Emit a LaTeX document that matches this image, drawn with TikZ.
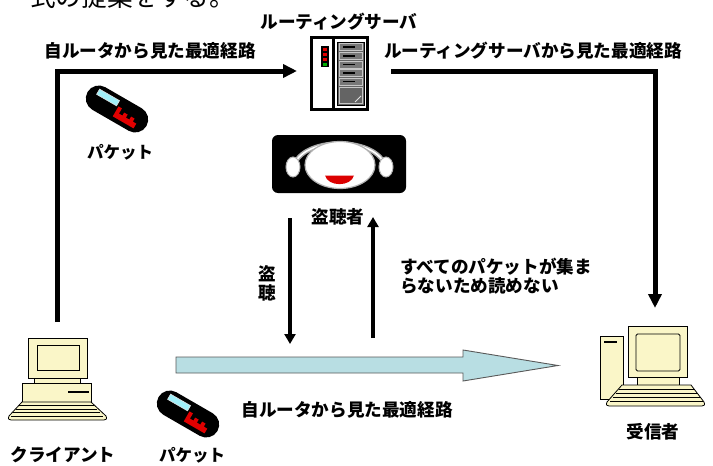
\documentclass[tikz,border=0pt]{standalone}
\usepackage{fontspec}
\newfontfamily\jp{Noto Sans CJK JP}
\usetikzlibrary{arrows.meta}

\definecolor{pcbody}{RGB}{250,246,200}
\definecolor{flowblue}{RGB}{184,222,227}
\definecolor{ledred}{RGB}{225,0,0}
\definecolor{ledgreen}{RGB}{0,175,0}
\definecolor{rackgray}{RGB}{100,100,100}
\definecolor{rowgray}{RGB}{120,120,120}
\definecolor{tubecyan}{RGB}{160,240,250}
\definecolor{mouthred}{RGB}{220,0,0}

\tikzset{
  packet/.pic={
    \fill[black, rounded corners=13pt] (-34,-13) rectangle (34,13);
    \filldraw[fill=tubecyan, draw=white!75!gray, line width=0.6pt] (-25,-8.5) rectangle (-2,-2.5);
    \fill[ledred] (0,-3) -- (4,-3) -- (4,3) -- (8,3) -- (8,-0.5) -- (12,-0.5) -- (12,3)
      -- (16,3) -- (16,-0.5) -- (20,-0.5) -- (20,3) -- (24,3) -- (24,8.5) -- (0,8.5) -- cycle;
  },
}

\begin{document}
\begin{tikzpicture}[x=1pt,y=-1pt,
  lbl/.style={font=\jp\bfseries\fontsize{17.6}{19}\selectfont, inner sep=0pt},
  route/.style={line width=5pt, -{Triangle[length=14pt,width=13pt]}},
  tap/.style={line width=4pt, -{Triangle[length=10pt,width=11pt]}},
  pcline/.style={draw=black, line width=0.8pt, fill=pcbody},
  keyrow/.style={line width=1pt},
  area/.style={inner sep=0pt, outer sep=0pt},
]
\useasboundingbox (0,0) rectangle (713,466);
\clip (0,0) rectangle (713,466);

% heading line running off the top edge
\node[font=\jp\fontsize{25.6}{28}\selectfont, anchor=base west, inner sep=0pt] (heading) at (30,6.5) {式の提案をする。};

% ---------- routing server ----------
\node[area, minimum width=59pt, minimum height=75pt] (server) at (339.5,73.5) {};
\filldraw[fill=white, line width=3pt] (311.5,37.5) rectangle (367.5,109.5);
\draw[line width=3pt] (333,37.5) -- (333,109.5);
\fill[black] (321,46) rectangle (329,67);
\fill[ledred] (323,48) rectangle (327,51);
\fill[ledred] (323,53) rectangle (327,56);
\fill[ledred] (323,58) rectangle (327,61);
\fill[ledgreen] (323,62.5) rectangle (327,65.5);
\filldraw[fill=rackgray, draw=black, line width=1pt] (337,42) rectangle (364,105);
\foreach \r in {43.5,52.5,61,69.5,78}{
  \filldraw[fill=rowgray, draw=gray!45, line width=0.7pt] (339,\r) rectangle (362,\r+7);
  \fill[black] (343,\r+2.8) rectangle (355,\r+4.4);
}
\filldraw[fill=rackgray, draw=gray!45, line width=0.7pt] (339,87) rectangle (362,103);
\draw[gray!25, line width=1pt] (355,102) -- (361,96);
\node[lbl] (serverName) at (339,22) {ルーティングサーバ};

% ---------- eavesdropper ----------
\node[area, minimum width=134pt, minimum height=58pt] (spy) at (339,164) {};
\fill[black, rounded corners=6pt] (272,135) rectangle (406,193);
\draw[gray!65, line width=4.5pt] (293,172) .. controls (293,134) and (386,134) .. (386,172);
\draw[white, line width=1.6pt] (293,172) .. controls (293,134) and (386,134) .. (386,172);
\filldraw[fill=white, draw=gray!60, line width=1pt] (293,167) ellipse (7 and 10);
\filldraw[fill=white, draw=gray!60, line width=1pt] (386,167) ellipse (7 and 10);
\filldraw[fill=white, draw=gray!60, line width=1.2pt] (340,165) ellipse (35 and 23.5);
\fill[mouthred] (325,175.5) .. controls (328,187) and (351,187) .. (354,175.5) -- cycle;
\node[lbl] (spyLabel) at (338,217) {盗聴者};

% ---------- client PC ----------
\node[area, minimum width=97pt, minimum height=82pt] (client) at (57.5,379) {};
\filldraw[pcline] (28,338) rectangle (87,378);
\draw[line width=0.8pt] (37,345) rectangle (79,370);
\filldraw[pcline] (34,378) rectangle (80,383);
\filldraw[pcline] (22,383) rectangle (91,402);
\draw[line width=1.6pt] (68,392) -- (89,392);
\filldraw[pcline] (22,402) -- (91,402) -- (106,416) .. controls (107,419) .. (104,420)
  -- (11,420) .. controls (8,419) .. (9,416) -- cycle;
\draw[keyrow] (19,405.5) -- (94,405.5);
\draw[keyrow] (16,409) -- (97,409);
\draw[keyrow] (13,412.5) -- (100,412.5);
\draw[keyrow] (11,416) -- (103,416);
\node[lbl] (clientName) at (63,455) {クライアント};

% ---------- receiver PC ----------
\node[area, minimum width=98pt, minimum height=80pt] (receiver) at (655,366) {};
\filldraw[pcline] (600,336) rectangle (623,399);
\draw[line width=1.8pt] (604,342) -- (617,342);
\filldraw[pcline] (628,326) rectangle (687,377);
\draw[line width=0.8pt, rounded corners=1.5pt] (636,334) rectangle (680,371);
\filldraw[pcline] (637,377) rectangle (679,385);
\filldraw[pcline] (622,385) -- (691,385) -- (704,402) .. controls (705,405) .. (702,406)
  -- (609,406) .. controls (606,405) .. (607,402) -- cycle;
\draw[keyrow] (619,389) -- (694,389);
\draw[keyrow] (616,393) -- (697,393);
\draw[keyrow] (613,397) -- (700,397);
\draw[keyrow] (610,401) -- (703,401);
\node[lbl] (receiverName) at (653,432) {受信者};

% ---------- packets ----------
\pic[rotate=-30] (packetTop) at (117,109) {packet};
\node[lbl, font=\jp\bfseries\fontsize{16.5}{18}\selectfont] (packetTopName) at (120,152) {パケット};
\pic[rotate=-30] (packetBottom) at (188,414) {packet};
\node[lbl, font=\jp\bfseries\fontsize{16.5}{18}\selectfont] (packetBottomName) at (192,455) {パケット};

% ---------- routes ----------
\node[lbl] (ownRouteTop) at (150,51) {自ルータから見た最適経路};
\node[lbl] (serverRoute) at (533,51) {ルーティングサーバから見た最適経路};
\draw[route] ([yshift=16pt]client.north) |- ([xshift=-13pt,yshift=2.5pt]server.west);
\draw[route] ([xshift=22pt,yshift=2.5pt]server.east) -| ([yshift=18pt]receiver.north);

% actual packet flow
\draw[draw=black!65, line width=0.9pt, fill=flowblue]
  (176,357) -- (463,357) -- (463,350) -- (558,365.5) -- (463,381) -- (463,373) -- (176,373) -- cycle;
\node[lbl] (ownRouteBottom) at (347,410) {自ルータから見た最適経路};

% eavesdropping
\coordinate (tapDownStart) at (290,218);
\coordinate (tapDownEnd) at (290,344);
\coordinate (tapUpStart) at (373,338);
\coordinate (tapUpEnd) at (373,217);
\draw[tap] (tapDownStart) -- (tapDownEnd);
\draw[tap] (tapUpStart) -- (tapUpEnd);
\node[lbl, align=center] (tapLabel) at (267,283) {盗\\聴};
\node[lbl, align=left, anchor=west] (failNote) at (400,276) {すべてのパケットが集ま\\らないため読めない};

\end{tikzpicture}
\end{document}
